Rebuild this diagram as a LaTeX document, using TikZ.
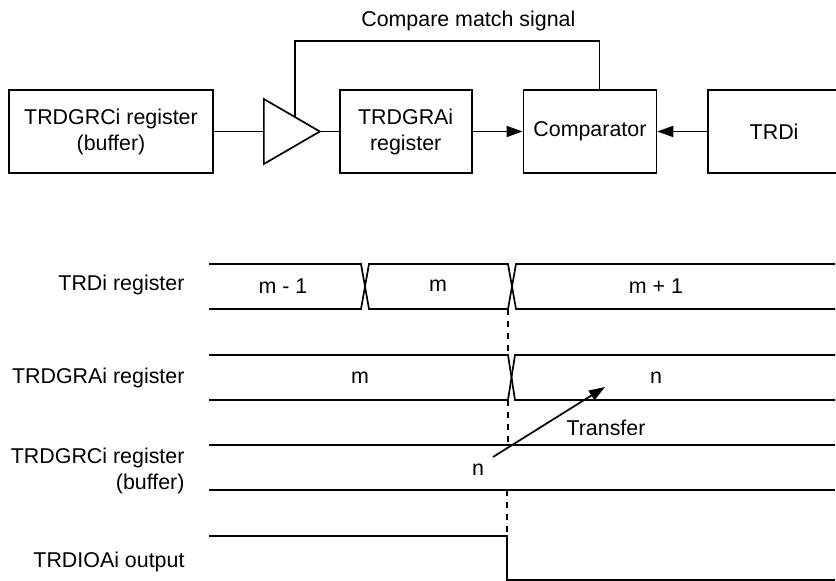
\documentclass[tikz,border=0pt]{standalone}
\usepackage{fontspec}
\setmainfont{Liberation Sans}
\usetikzlibrary{positioning, arrows.meta, calc}

\begin{document}
\begin{tikzpicture}[
    x=0.5pt, y=-0.5pt,
    font=\fontsize{10.7}{13}\selectfont,
    line width=0.85pt,
    block/.style={
        draw,
        rectangle,
        minimum width=66pt,
        minimum height=41.5pt,
        align=center
    },
    arrow/.style={
        -{Triangle[length=8pt, width=5.5pt]}
    },
    siglabel/.style={
        anchor=east,
        align=right
    }
]
\useasboundingbox (0,0) rectangle (836,581);

% Block diagram
\node[block, minimum width=102pt] (rcbox) at (111,131.5) {TRDGRCi register\\(buffer)};
\node[block, right=62.5pt of rcbox] (rabox) {TRDGRAi\\register};
\node[block, minimum width=66.5pt, right=25pt of rabox] (comp) {Comparator};
\node[block, right=25pt of comp] (trdi) {TRDi};

% Buffer
\coordinate (bufin) at ($(rcbox.east)+(50,0)$);
\coordinate (bufout) at ($(bufin)+(56,0)$);
\draw (bufin) -- ++(0,-32.5) -- (bufout) -- ($(bufin)+(0,32.5)$) -- cycle;
\coordinate (tap) at ($($(bufin)+(0,-32.5)$)!0.55!(bufout)$);

% Connections
\draw (rcbox) -- (bufin);
\draw (bufout) -- (rabox);
\draw[arrow] (rabox) -- (comp);
\draw[arrow] (trdi) -- (comp);
\draw (tap) -- ++(0,-76) -| node[pos=0.285, above=1pt] {Compare match signal} ($(comp.north)+(9.5,0)$);

% Timing chart labels
\node[siglabel] (lbtrdi) at (192,285) {TRDi register};
\node[siglabel] (lbra) at (192,378) {TRDGRAi register};
\node[siglabel] (lbrc) at (192,471) {TRDGRCi register\\(buffer)};
\node[siglabel] (lbio) at (192,562) {TRDIOAi output};

% TRDi register
\draw (209,264) -- (361,264) -- (369,309) -- (508,309) -- (516,264) -- (835,264);
\draw (209,309) -- (361,309) -- (369,264) -- (508,264) -- (516,309) -- (835,309);
\node (vm1) at (283,286) {m - 1};
\node (vm) at (438,286) {m};
\node (vmp1) at (656,286) {m + 1};

% TRDGRAi register
\draw (209,355) -- (508,355) -- (515,400) -- (835,400);
\draw (209,400) -- (508,400) -- (515,355) -- (835,355);
\node (ram) at (360,378) {m};
\node (ran) at (656,378) {n};

% TRDGRCi register
\draw (209,445) -- (835,445);
\draw (209,490) -- (835,490);
\node (rcn) at (478,470) {n};

% TRDIOAi output
\draw (209,536) -- (507,536) -- (507,580) -- (835,580);

% Compare match
\draw[dashed] (508,309) -- (508,355);
\draw[dashed] (508,400) -- (508,445);
\draw[dashed] (507,490) -- (507,536);

% Transfer
\coordinate (xfrom) at (493,457);
\coordinate (xto) at (605,387);
\draw[arrow] (xfrom) -- (xto);
\node (xfer) at (606,428) {Transfer};

\end{tikzpicture}
\end{document}
